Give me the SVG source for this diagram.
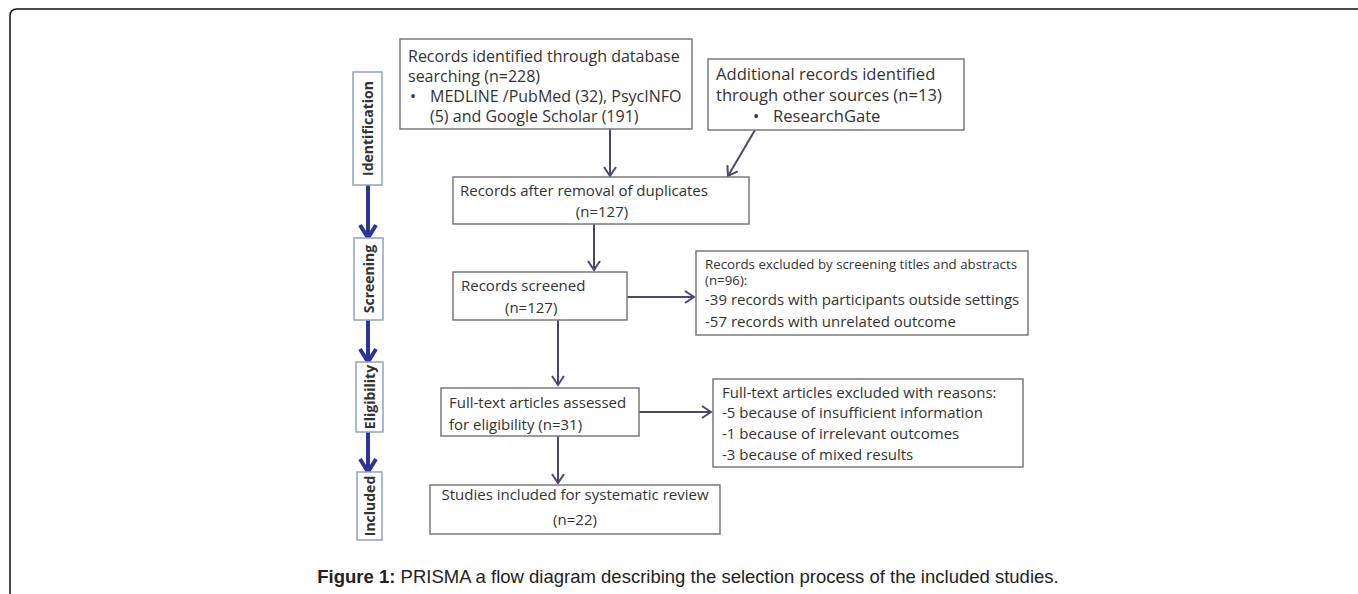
<svg xmlns="http://www.w3.org/2000/svg" width="1358" height="594" viewBox="0 0 1358 594">
<style>
.box{fill:#fff;stroke:#7a7a7a;stroke-width:1.5}
.stage{fill:#fff;stroke:#8ea3c4;stroke-width:1.5}
.t{font-family:"Open Sans","Noto Sans",sans-serif;font-size:15px;fill:#333}
.tl{font-family:"Open Sans","Noto Sans",sans-serif;font-size:16px;fill:#333}
.tx{font-family:"Open Sans","Noto Sans",sans-serif;font-size:16.6px;fill:#333}
.ts{font-family:"Open Sans","Noto Sans",sans-serif;font-size:13.3px;fill:#333}
.tm{font-family:"Open Sans","Noto Sans",sans-serif;font-size:15px;fill:#333}
.st{font-family:"Open Sans","Noto Sans",sans-serif;font-size:14px;font-weight:bold;fill:#333}
.c{fill:none;stroke:#4e4670;stroke-width:2}
.b{fill:none;stroke:#2c3494;stroke-width:4}
.cap{font-family:"Liberation Sans",Arial,sans-serif;font-size:18.5px;fill:#222}
</style>
<defs>
<marker id="ah" markerWidth="14" markerHeight="14" refX="11" refY="7" orient="auto" markerUnits="userSpaceOnUse">
<path d="M2,1 L11,7 L2,13" fill="none" stroke="#4e4670" stroke-width="2"/>
</marker>
<marker id="bh" markerWidth="20" markerHeight="20" refX="16" refY="10" orient="auto" markerUnits="userSpaceOnUse">
<path d="M3,2 L16,10 L3,18" fill="none" stroke="#2c3494" stroke-width="4"/>
</marker>
</defs>
<rect width="1358" height="594" fill="#fff"/>
<path d="M10,594 L10,16 Q10,9 17,9 L1358,9" fill="none" stroke="#111" stroke-width="1.5"/>

<g id="connectors">
<line class="c" x1="610" y1="129" x2="610" y2="176" marker-end="url(#ah)"/>
<line class="c" x1="755" y1="130" x2="728" y2="176" marker-end="url(#ah)"/>
<line class="c" x1="594" y1="224" x2="594" y2="270" marker-end="url(#ah)"/>
<line class="c" x1="627" y1="297" x2="694" y2="297" marker-end="url(#ah)"/>
<line class="c" x1="558" y1="320" x2="558" y2="385" marker-end="url(#ah)"/>
<line class="c" x1="639" y1="412" x2="711" y2="412" marker-end="url(#ah)"/>
<line class="c" x1="558" y1="436" x2="558" y2="483" marker-end="url(#ah)"/>
<line class="b" x1="368" y1="185" x2="368" y2="238" marker-end="url(#bh)"/>
<line class="b" x1="368" y1="320" x2="368" y2="362" marker-end="url(#bh)"/>
<line class="b" x1="368" y1="432" x2="368" y2="472" marker-end="url(#bh)"/>
</g>

<g id="stage-identification">
<rect class="stage" x="353" y="72" width="29" height="113"/>
<text class="st" transform="translate(372.5,128.5) rotate(-90)" text-anchor="middle">Identification</text>
</g>
<g id="stage-screening">
<rect class="stage" x="354" y="238" width="29" height="82"/>
<text class="st" transform="translate(373.5,279) rotate(-90)" text-anchor="middle">Screening</text>
</g>
<g id="stage-eligibility">
<rect class="stage" x="356" y="362" width="27" height="70"/>
<text class="st" transform="translate(374.5,397) rotate(-90)" text-anchor="middle">Eligibility</text>
</g>
<g id="stage-included">
<rect class="stage" x="357" y="472" width="25" height="68"/>
<text class="st" transform="translate(374.5,506) rotate(-90)" text-anchor="middle">Included</text>
</g>

<g id="n-identified">
<rect class="box" x="400" y="39" width="292" height="90"/>
<text class="tl" x="408" y="62">Records identified through database</text>
<text class="tl" x="408" y="82">searching (n=228)</text>
<text class="tl" x="410" y="102">•</text>
<text class="tl" x="430" y="102">MEDLINE /PubMed (32), PsycINFO</text>
<text class="tl" x="430" y="122">(5) and Google Scholar (191)</text>
</g>
<g id="n-additional">
<rect class="box" x="708" y="59" width="256" height="71"/>
<text class="tx" x="716" y="80">Additional records identified</text>
<text class="tx" x="716" y="101">through other sources (n=13)</text>
<text class="tx" x="753" y="122">•</text>
<text class="tx" x="773" y="122">ResearchGate</text>
</g>
<g id="n-duplicates">
<rect class="box" x="453" y="177" width="296" height="47"/>
<text class="t" x="460" y="196">Records after removal of duplicates</text>
<text class="t" x="602" y="217" text-anchor="middle">(n=127)</text>
</g>
<g id="n-screened">
<rect class="box" x="453" y="272" width="174" height="48"/>
<text class="t" x="461" y="291">Records screened</text>
<text class="t" x="505" y="313">(n=127)</text>
</g>
<g id="n-excluded">
<rect class="box" x="696" y="251" width="332" height="84"/>
<text class="ts" x="705" y="269">Records excluded by screening titles and abstracts</text>
<text class="ts" x="705" y="285">(n=96):</text>
<text class="tm" x="705" y="305">-39 records with participants outside settings</text>
<text class="tm" x="705" y="327">-57 records with unrelated outcome</text>
</g>
<g id="n-fulltext">
<rect class="box" x="441" y="388" width="198" height="48"/>
<text class="t" x="449" y="408">Full-text articles assessed</text>
<text class="t" x="449" y="430">for eligibility  (n=31)</text>
</g>
<g id="n-fulltext-excluded">
<rect class="box" x="713" y="379" width="310" height="88"/>
<text class="tm" x="722" y="398">Full-text articles excluded with reasons:</text>
<text class="tm" x="722" y="418">-5 because of insufficient information</text>
<text class="tm" x="722" y="439">-1 because of irrelevant outcomes</text>
<text class="tm" x="722" y="460">-3 because of mixed results</text>
</g>
<g id="n-included">
<rect class="box" x="430" y="485" width="290" height="49"/>
<text class="t" x="575" y="500" text-anchor="middle">Studies included for systematic review</text>
<text class="t" x="575" y="525" text-anchor="middle">(n=22)</text>
</g>

<text class="cap" x="688" y="583" text-anchor="middle"><tspan font-weight="bold">Figure 1:</tspan> PRISMA a flow diagram describing the selection process of the included studies.</text>
</svg>
